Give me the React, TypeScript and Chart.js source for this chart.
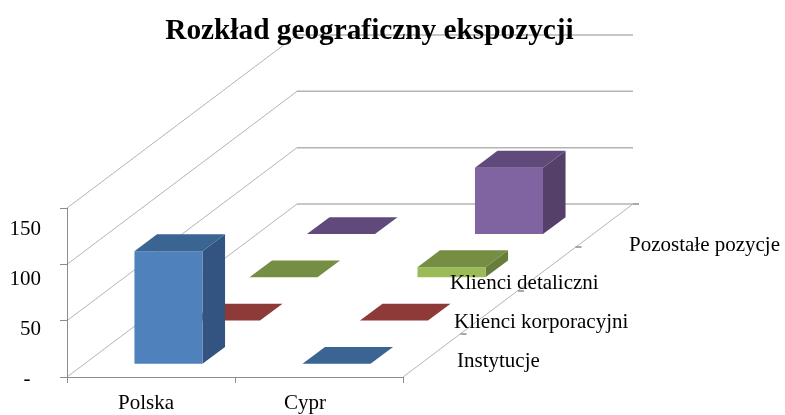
import React, { useEffect, useRef } from "react";
import { Chart, registerables } from "chart.js";

Chart.register(...registerables);

const titleText = "Rozkład geograficzny ekspozycji";
const countries = ["Polska", "Cypr"];
const seriesNames = ["Instytucje", "Klienci korporacyjni", "Klienci detaliczni", "Pozostałe pozycje"];
const instytucje = [100, 0];
const klienciKorporacyjni = [0, 0];
const klienciDetaliczni = [0, 9];
const pozostalePozycje = [0, 59];
const seriesValues = [instytucje, klienciKorporacyjni, klienciDetaliczni, pozostalePozycje];
const frontColors = ["#4F81BD", "#C0504D", "#9BBB59", "#8064A2"];
const topColors = ["#3A6491", "#8E3A38", "#758E43", "#604A7B"];
const sideColors = ["#335480", "#7C3331", "#677D3B", "#544069"];

const FONT = '"Liberation Serif", "Times New Roman", serif';
const DEPTH_X = 230;
const DEPTH_Y = 173;
const BAR_WIDTH = 0.405;
const BAR_DEPTH = 0.098;
const GRID = "#B4B4B4";
const TICK = "#8C8C8C";

const yLabelStep = 50;
const yLabelBase = 379;
const xLabelCenters = [146, 305];
const depthLabelAnchors = [
  [457, 361],
  [454, 322],
  [450, 283],
  [629, 245],
];

function depthFrac(chart: any, value: number) {
  const d = chart.scales.depth;
  return (d.bottom - d.getPixelForValue(value)) / (d.bottom - d.top);
}

function poly(ctx: CanvasRenderingContext2D, pts: number[][], fill: string) {
  ctx.beginPath();
  pts.forEach(([x, y], i) => (i ? ctx.lineTo(x, y) : ctx.moveTo(x, y)));
  ctx.closePath();
  ctx.fillStyle = fill;
  ctx.fill();
}

const threeD = {
  id: "threeD",
  beforeDraw(chart: any) {
    const { ctx, scales } = chart;
    const { x, y } = scales;
    ctx.save();
    ctx.fillStyle = "#fff";
    ctx.fillRect(0, 0, chart.width, chart.height);
    ctx.strokeStyle = GRID;
    const left = x.left;
    const wide = x.right - x.left;
    y.ticks.forEach((t: any) => {
      const py = y.getPixelForValue(t.value);
      ctx.lineWidth = 1;
      ctx.beginPath();
      ctx.moveTo(left, py);
      ctx.lineTo(left + DEPTH_X, py - DEPTH_Y);
      ctx.stroke();
      ctx.lineWidth = 1.5;
      ctx.beginPath();
      ctx.moveTo(left + DEPTH_X, py - DEPTH_Y);
      ctx.lineTo(left + DEPTH_X + wide, py - DEPTH_Y);
      ctx.stroke();
    });
    const base = y.getPixelForValue(0);
    ctx.lineWidth = 1;
    ctx.beginPath();
    ctx.moveTo(x.right, base);
    ctx.lineTo(x.right + DEPTH_X, base - DEPTH_Y);
    ctx.stroke();
    ctx.strokeStyle = TICK;
    ctx.lineWidth = 1.5;
    seriesNames.forEach((_, i) => {
      const f = depthFrac(chart, i + 0.5);
      const px = x.right + DEPTH_X * f;
      const py = Math.round(base - DEPTH_Y * f);
      ctx.beginPath();
      ctx.moveTo(px, py);
      ctx.lineTo(px + 6, py);
      ctx.stroke();
    });
    ctx.restore();
  },
  beforeDatasetsDraw(chart: any) {
    const { ctx, scales } = chart;
    const { x, y } = scales;
    const band = (x.right - x.left) / countries.length;
    const w = band * BAR_WIDTH;
    const zero = y.getPixelForValue(0);
    ctx.save();
    for (let s = seriesValues.length - 1; s >= 0; s--) {
      const f = depthFrac(chart, s) - BAR_DEPTH / 2;
      const ox = DEPTH_X * f;
      const oy = DEPTH_Y * f;
      const dx = DEPTH_X * BAR_DEPTH;
      const dy = DEPTH_Y * BAR_DEPTH;
      chart.data.datasets[s].data.forEach((v: number, i: number) => {
        const x0 = x.getPixelForValue(i) - w / 2 + ox;
        const x1 = x0 + w;
        const yb = zero - oy;
        const yt = y.getPixelForValue(v) - oy;
        if (v > 0) {
          poly(ctx, [[x1, yt], [x1 + dx, yt - dy], [x1 + dx, yb - dy], [x1, yb]], sideColors[s]);
          poly(ctx, [[x0, yt], [x1, yt], [x1, yb], [x0, yb]], frontColors[s]);
        }
        poly(ctx, [[x0, yt], [x1, yt], [x1 + dx, yt - dy], [x0 + dx, yt - dy]], topColors[s]);
      });
    }
    ctx.restore();
    return false;
  },
  afterDraw(chart: any) {
    const { ctx, scales } = chart;
    ctx.save();
    ctx.fillStyle = "#000";
    ctx.font = `21px ${FONT}`;
    ctx.textBaseline = "middle";
    ctx.textAlign = "left";
    seriesNames.forEach((name, i) => {
      ctx.fillText(name, depthLabelAnchors[i][0], depthLabelAnchors[i][1]);
    });
    ctx.textAlign = "center";
    countries.forEach((c, i) => ctx.fillText(c, xLabelCenters[i], 403));
    ctx.textAlign = "right";
    scales.y.ticks.forEach((t: any, i: number) => {
      ctx.fillText(t.label, 41, yLabelBase - yLabelStep * i);
    });
    ctx.restore();
  },
};

export default function App() {
  const ref = useRef<HTMLCanvasElement>(null);
  useEffect(() => {
    const chart = new Chart(ref.current as HTMLCanvasElement, {
      type: "bar",
      data: {
        labels: countries,
        datasets: seriesNames.map((label, s) => ({
          label,
          data: seriesValues[s],
          backgroundColor: frontColors[s],
        })),
      },
      options: {
        responsive: false,
        animation: false,
        layout: { padding: { left: 0, right: 46, top: 0, bottom: 0 } },
        plugins: {
          legend: { display: false },
          tooltip: { enabled: false },
          title: {
            display: true,
            text: titleText,
            color: "#000",
            font: { family: FONT, size: 29.3, weight: "bold", lineHeight: 1.2 },
            padding: { top: 14, bottom: 208 - 14 - 35.16 },
          },
        },
        scales: {
          x: {
            type: "category",
            offset: true,
            grid: { offset: true, drawOnChartArea: false, color: TICK, tickLength: 6 },
            border: { color: TICK, width: 1 },
            ticks: { display: false },
            afterFit: (s: any) => { s.height = 38; },
          },
          y: {
            min: 0,
            max: 150,
            position: "left",
            grid: { drawOnChartArea: false, color: TICK, tickLength: 7 },
            border: { color: TICK, width: 1 },
            ticks: {
              display: false,
              stepSize: 50,
              callback: (v: any) => (v === 0 ? "-  " : String(v)),
            },
            afterFit: (s: any) => { s.width = 67; },
          },
          depth: {
            type: "category",
            axis: "y",
            labels: seriesNames,
            position: "right",
            reverse: true,
            offset: true,
            grid: { display: false },
            border: { display: false },
            ticks: { display: false },
            afterFit: (s: any) => { s.width = 336; },
          },
        },
      } as any,
      plugins: [threeD as any],
    });
    return () => chart.destroy();
  }, []);
  return (
    <div style={{ position: "absolute", left: 0, top: 0, width: 785, height: 415 }}>
      <canvas ref={ref} width={785} height={415} style={{ display: "block" }} />
    </div>
  );
}
